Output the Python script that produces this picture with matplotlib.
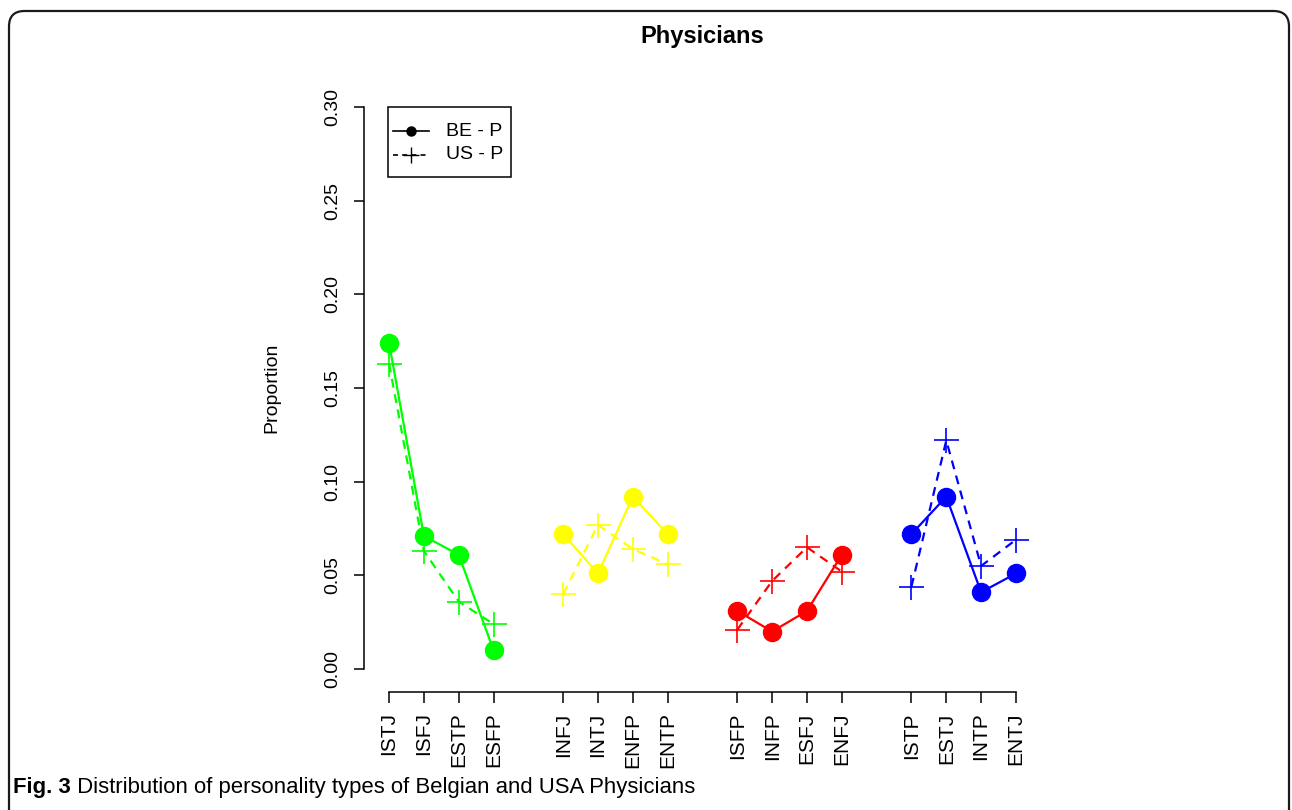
import matplotlib
matplotlib.use("Agg")
import matplotlib.pyplot as plt
from matplotlib.lines import Line2D
from matplotlib.patches import FancyBboxPatch, Rectangle

plt.rcParams['font.family'] = ['Liberation Sans', 'DejaVu Sans']

# ---- data ----
groups = [
    ["ISTJ", "ISFJ", "ESTP", "ESFP"],
    ["INFJ", "INTJ", "ENFP", "ENTP"],
    ["ISFP", "INFP", "ESFJ", "ENFJ"],
    ["ISTP", "ESTJ", "INTP", "ENTJ"],
]
group_colors = ["#00FF00", "#FFFF00", "#FF0000", "#0000FF"]
be_values = [
    [0.174, 0.071, 0.061, 0.010],
    [0.072, 0.051, 0.092, 0.072],
    [0.031, 0.020, 0.031, 0.061],
    [0.072, 0.092, 0.041, 0.051],
]
us_values = [
    [0.163, 0.063, 0.036, 0.024],
    [0.040, 0.077, 0.064, 0.056],
    [0.021, 0.047, 0.065, 0.052],
    [0.044, 0.122, 0.055, 0.069],
]
yticks = [0.00, 0.05, 0.10, 0.15, 0.20, 0.25, 0.30]
title = "Physicians"
ylabel = "Proportion"
legend_labels = ["BE - P", "US - P"]
caption_bold = "Fig. 3"
caption_text = " Distribution of personality types of Belgian and USA Physicians"

W, H = 1292, 810
fig = plt.figure(figsize=(W / 100, H / 100), dpi=100)
fig.patch.set_facecolor("white")

def fx(px):
    return px / W

def fy(py):
    return 1 - py / H

# axes placed in pixel coordinates
left, right, top, bottom = 364, 1041, 84.5, 691.5
ax = fig.add_axes([left / W, 1 - bottom / H, (right - left) / W, (bottom - top) / H])

xpos_all = []
labels_all = []
pos = 1
for gi, names in enumerate(groups):
    xs = list(range(pos, pos + len(names)))
    c = group_colors[gi]
    ax.plot(xs, us_values[gi], color=c, lw=1.6, linestyle=(0, (4, 3)),
            marker="+", markersize=18, markeredgewidth=1.2, zorder=2)
    ax.plot(xs, be_values[gi], color=c, lw=1.6, linestyle="-",
            marker="o", markersize=13, zorder=3)
    xpos_all += xs
    labels_all += names
    pos += len(names) + 1

xmin, xmax = xpos_all[0], xpos_all[-1]
dx = (xmax - xmin) * 0.04
ax.set_xlim(xmin - dx, xmax + dx)
ax.set_ylim(0 - 0.3 * 0.04, 0.30 + 0.3 * 0.04)

for s in ["top", "right"]:
    ax.spines[s].set_visible(False)
ax.spines["left"].set_bounds(0, 0.30)
ax.spines["bottom"].set_bounds(xmin, xmax)
for s in ["left", "bottom"]:
    ax.spines[s].set_linewidth(1.1)

ax.set_xticks(xpos_all)
ax.set_xticklabels(labels_all, rotation=90, fontsize=15)
ax.set_yticks(yticks)
ax.set_yticklabels([f"{v:.2f}" for v in yticks], rotation=90, va="center", fontsize=14)
ax.tick_params(axis="x", length=8, width=1.1, pad=7, colors="black")
ax.tick_params(axis="y", length=7.5, width=1.1, pad=9, colors="black")

ax.set_ylabel(ylabel, fontsize=14)
ax.yaxis.set_label_coords((280 - left) / (right - left), 0.5)

fig.text(fx((left + right) / 2), fy(37), title, ha="center", va="center",
         fontsize=17, fontweight="bold")

# legend box drawn in figure pixel coordinates
fig.patches.append(Rectangle((fx(388), fy(177)), fx(511) - fx(388), fy(107) - fy(177),
                             transform=fig.transFigure, facecolor="white",
                             edgecolor="black", linewidth=1.1, zorder=5))
leg_styles = [
    dict(linestyle="-", marker="o", markersize=6.5, markeredgewidth=1.0),
    dict(linestyle=(0, (3, 2.5)), marker="+", markersize=11, markeredgewidth=1.0),
]
for i, (lab, st) in enumerate(zip(legend_labels, leg_styles)):
    yrow = 131 + i * 23.5
    fig.lines.append(Line2D([fx(393), fx(429)], [fy(yrow), fy(yrow)], color="black",
                            lw=1.2, transform=fig.transFigure, zorder=6,
                            linestyle=st["linestyle"]))
    fig.lines.append(Line2D([fx(411)], [fy(yrow)], color="black", lw=0,
                            transform=fig.transFigure, zorder=6, marker=st["marker"],
                            markersize=st["markersize"],
                            markeredgewidth=st["markeredgewidth"]))
    fig.text(fx(446), fy(yrow), lab, fontsize=14, ha="left", va="center", zorder=7)

# outer rounded frame (open at bottom)
frame = FancyBboxPatch((9 / W, -0.05), (1289 - 9) / W, (1 - 11 / H) + 0.05,
                       boxstyle="round,pad=0,rounding_size=0.012",
                       transform=fig.transFigure, facecolor="none",
                       edgecolor="#1a1a1a", linewidth=1.6, mutation_aspect=W / H)
fig.patches.append(frame)

# caption
cap_font = ['Liberation Sans Narrow', 'Liberation Sans', 'DejaVu Sans']
renderer = fig.canvas.get_renderer()
fs = 15
t1 = fig.text(fx(13), fy(787), caption_bold, fontsize=fs, fontweight="bold",
              family=cap_font, va="center", ha="left")
bb = t1.get_window_extent(renderer)
t2 = fig.text(bb.x1 / W, fy(787), caption_text, fontsize=fs,
              family=cap_font, va="center", ha="left")
bb2 = t2.get_window_extent(renderer)
scale = (695 - 13) / (bb2.x1 - bb.x0)
t1.set_fontsize(fs * scale)
t2.set_fontsize(fs * scale)
bb = t1.get_window_extent(renderer)
t2.set_x(bb.x1 / W)

fig.savefig("out.png", dpi=100, facecolor="white")
